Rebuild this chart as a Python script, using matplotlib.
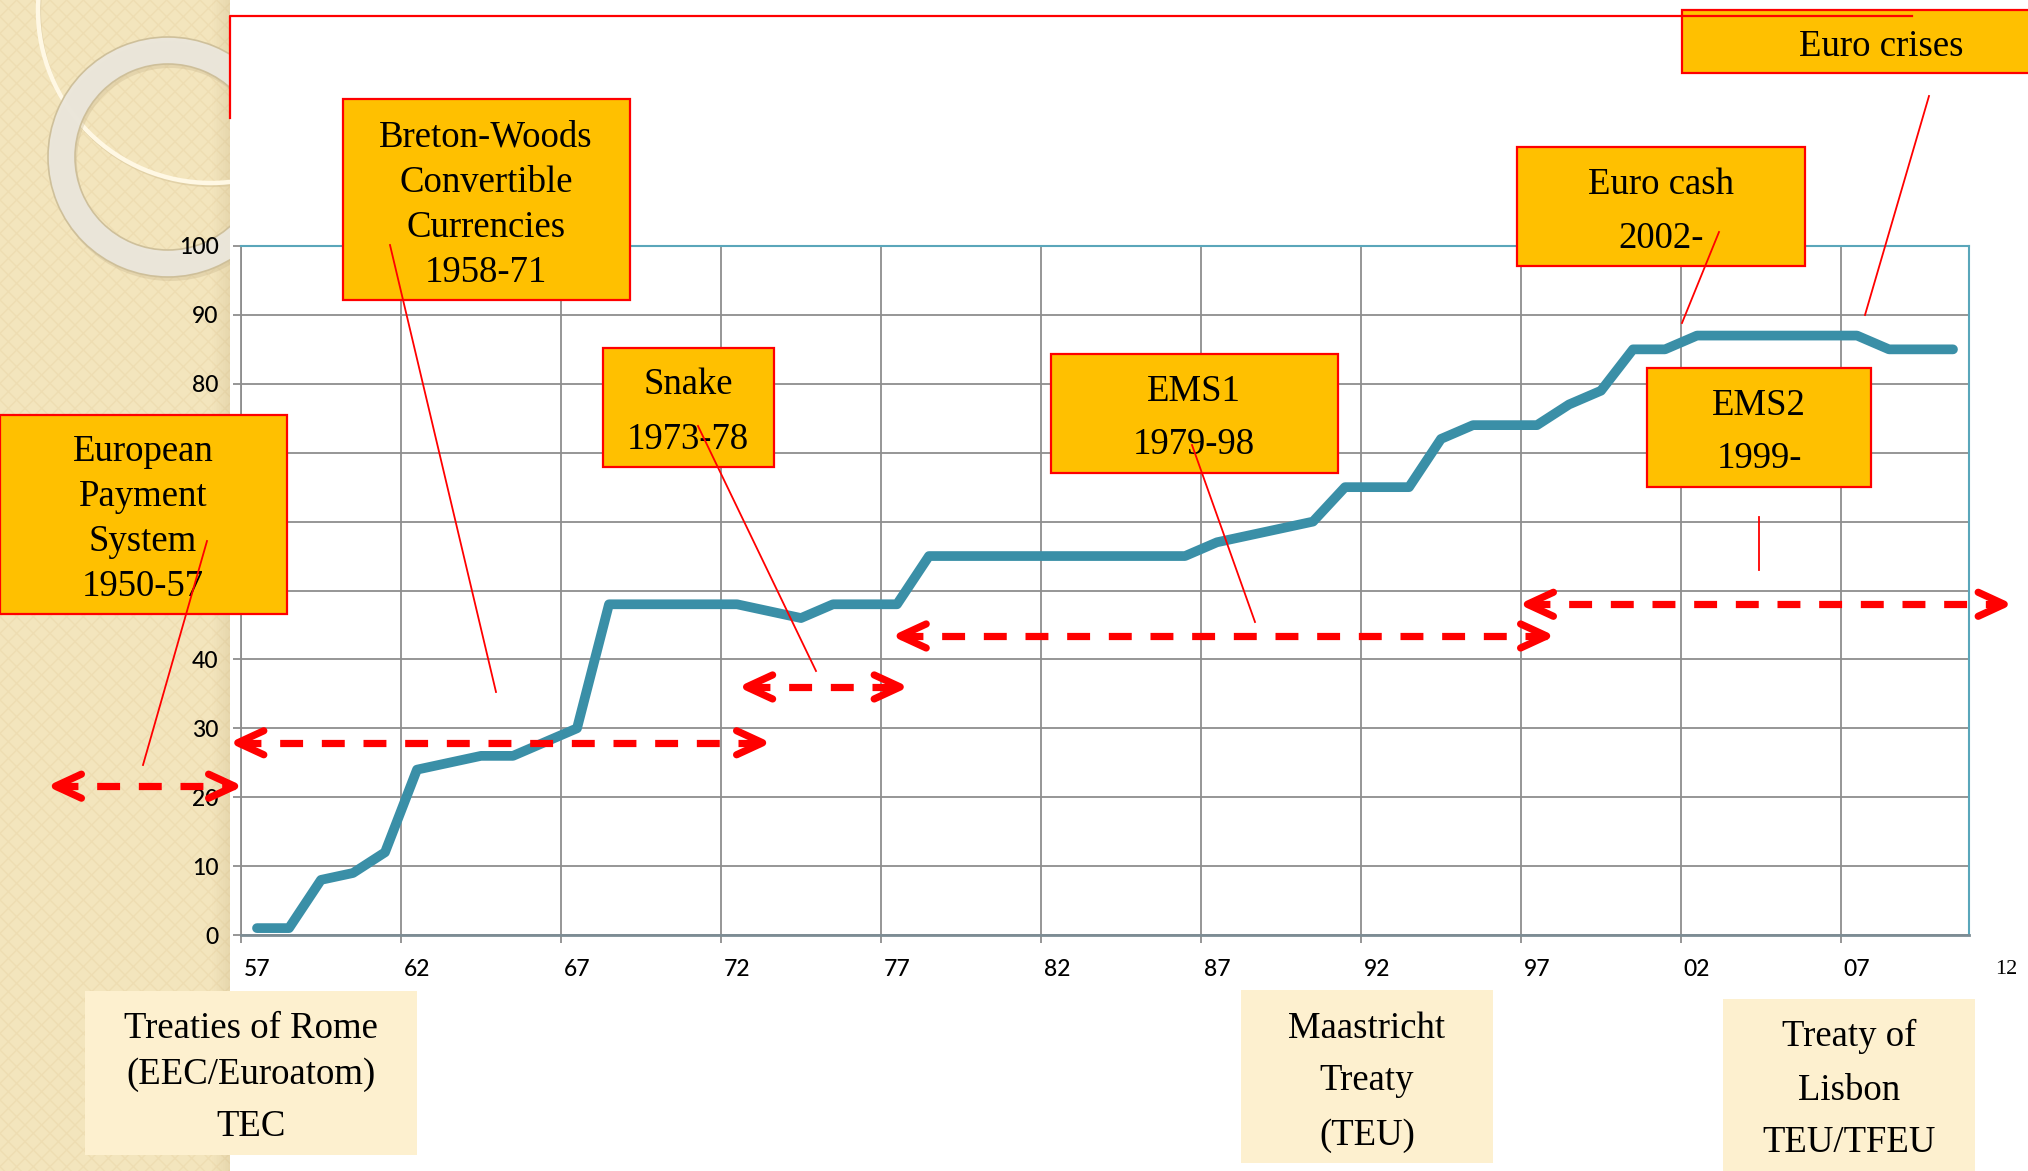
import numpy as np
import matplotlib
matplotlib.use("Agg")
import matplotlib.pyplot as plt
import matplotlib.patches as mpatches
import matplotlib.transforms as mtransforms
from matplotlib.lines import Line2D

# ---- data -------------------------------------------------------------
years = np.arange(1957, 2011)
integration = [1, 1, 8, 9, 12, 24, 25, 26, 26, 28, 30,
               48, 48, 48, 48, 48, 47, 46, 48, 48, 48,
               55, 55, 55, 55, 55, 55, 55, 55, 55,
               57, 58, 59, 60, 65, 65, 65, 72, 74, 74, 74,
               77, 79, 85, 85, 87, 87, 87, 87, 87, 87, 85, 85, 85]

tick_years = np.arange(1957, 2008, 5)
tick_labels = ["57", "62", "67", "72", "77", "82", "87", "92", "97", "02", "07"]
y_ticks = np.arange(0, 101, 10)

# currency regimes drawn as double-headed spans
span_start = [1950.7, 1956.4, 1972.3, 1977.1, 1996.7]
span_end = [1956.3, 1972.8, 1977.1, 1997.3, 2011.6]
span_level = [21.6, 27.9, 36.0, 43.4, 48.0]

callout_text = [
    ["European", "Payment", "System", "1950-57"],
    ["Breton-Woods", "Convertible", "Currencies", "1958-71"],
    ["Snake", "1973-78"],
    ["EMS1", "1979-98"],
    ["Euro cash", "2002-"],
    ["EMS2", "1999-"],
    ["Euro crises"],
]
treaty_text = [
    ["Treaties of Rome", "(EEC/Euroatom)", "TEC"],
    ["Maastricht", "Treaty", "(TEU)"],
    ["Treaty of", "Lisbon", "TEU/TFEU"],
]

# ---- figure -----------------------------------------------------------
plt.rcParams["lines.scale_dashes"] = False
plt.rcParams["hatch.linewidth"] = 1.0
W, H = 2028, 1171
fig = plt.figure(figsize=(W / 100, H / 100), dpi=100)
fig.patch.set_facecolor("white")
# pixel coordinates, origin top-left
px = mtransforms.Affine2D().scale(1 / W, -1 / H).translate(0, 1) + fig.transFigure

SERIF = ["Liberation Serif", "DejaVu Serif"]
SANS = ["Lato", "DejaVu Sans"]
FS = 26.5

# decorative side strip
strip = mpatches.Rectangle((0, 0), 230, H, transform=px, facecolor="#F3E5BD",
                           edgecolor="none", zorder=-6)
fig.add_artist(strip)
tex = mpatches.Rectangle((0, 0), 230, H, transform=px, facecolor="none",
                         edgecolor="#EEDDB2", hatch="xx", linewidth=0, zorder=-5.9)
fig.add_artist(tex)
for i in range(10):
    sh = mpatches.Rectangle((212 + i * 1.8, 0), 1.8, H, transform=px,
                            facecolor="#B9A170", alpha=0.015 + 0.02 * i,
                            edgecolor="none", zorder=-5.8)
    fig.add_artist(sh)

arc_shadow = mpatches.Circle((212, 12), 173, fill=False, edgecolor="#D8C69A",
                             lw=3, alpha=0.6, transform=px, zorder=-5.5)
arc = mpatches.Circle((211, 10), 173, fill=False, edgecolor="#FFF8E4",
                      lw=3.2, transform=px, zorder=-5.4)
ring_shadow = mpatches.Annulus((170, 161), 120, 27, facecolor="#C9B78E",
                               edgecolor="none", alpha=0.35,
                               transform=px, zorder=-5.35)
ring = mpatches.Annulus((168, 157), 120, 27, facecolor="#EBE7DC",
                        edgecolor="#CDBE98", lw=1.2, alpha=0.95,
                        transform=px, zorder=-5.3)
for a in (arc_shadow, arc, ring_shadow, ring):
    fig.add_artist(a)
    a.set_clip_path(strip)

# ---- axes -------------------------------------------------------------
ax = fig.add_axes([241 / W, 1 - 935 / H, (1969 - 241) / W, (935 - 246) / H])
ax.set_facecolor("white")
ax.set_axisbelow(True)

ax.plot(years, integration, color="#3A8FA7", lw=7, solid_joinstyle="round",
        solid_capstyle="round", zorder=3, clip_on=False)

grid_c = "#8E8E8E"
ax.set_yticks(y_ticks)
ax.set_yticklabels([str(v) for v in y_ticks])
ax.set_xticks(tick_years)
ax.set_xticklabels(tick_labels)
ax.set_xticks(np.arange(1956.5, 2010, 5), minor=True)
ax.grid(axis="y", which="major", color=grid_c, lw=1.3)
ax.grid(axis="x", which="minor", color=grid_c, lw=1.3)
ax.grid(axis="x", which="major", visible=False)
ax.tick_params(axis="x", which="major", length=0, pad=17, labelsize=16.5)
ax.tick_params(axis="x", which="minor", length=6, width=1.3, color=grid_c)
ax.tick_params(axis="y", length=6, width=1.3, color=grid_c, pad=10, labelsize=16.5)
for lab in ax.get_xticklabels() + ax.get_yticklabels():
    lab.set_family(SANS)
    lab.set_fontweight("medium")
# the labels 50-70 sit underneath the payment-system box
for v, lab in zip(y_ticks, ax.get_yticklabels()):
    if 45 < v < 76:
        lab.set_visible(False)
ax.spines["left"].set_color(grid_c)
ax.spines["left"].set_linewidth(1.3)
ax.spines["bottom"].set_color("#7C8C94")
ax.spines["bottom"].set_linewidth(2)
for s in ("top", "right"):
    ax.spines[s].set_color("#5AA6BA")
    ax.spines[s].set_linewidth(1.5)

# dashed period spans with open arrow heads
for x0, x1, yv in zip(span_start, span_end, span_level):
    ax.plot([x0, x1], [yv, yv], color="#FF0000", lw=5.2, dashes=(16.5, 13.5),
            dash_capstyle="butt", clip_on=False, zorder=6)
    for xt, sgn in ((x0, 1), (x1, -1)):
        tr = mtransforms.Affine2D() + mtransforms.ScaledTranslation(xt, yv, ax.transData)
        head = Line2D([sgn * 26, 0, sgn * 26], [12, 0, -12], transform=tr,
                      color="#FF0000", lw=5.2, solid_capstyle="round",
                      solid_joinstyle="round", clip_on=False, zorder=6)
        ax.add_line(head)

ax.set_xlim(1956.5, 2010.5)
ax.set_ylim(0, 100)

fig.text(2006, 970, "12", transform=px, ha="center", va="center",
         fontsize=16, family=SERIF)

# ---- callout boxes ----------------------------------------------------
callout_boxes = [(0, 415, 287, 614), (343, 99, 630, 300), (603, 348, 774, 467),
                 (1051, 354, 1338, 473), (1517, 147, 1805, 266),
                 (1647, 368, 1871, 487), (1682, 10, 2045, 73)]
callout_first = [447, 133, 380, 387, 180, 401, 42]
callout_spacing = [1.40, 1.40, 1.77, 1.71, 1.74, 1.71, 1.0]
callout_cx = [143, 486, 688, 1194, 1661, 1759, 1881]
leaders = [((207, 541), (143, 765)), ((390, 245), (496, 692)),
           ((698, 426), (816, 671)), ((1192, 445), (1255, 622)),
           ((1719, 232), (1682, 323)), ((1759, 517), (1759, 570)),
           ((1929, 96), (1865, 315))]

for lines, (x0, y0, x1, y1), y_first, ls, cx in zip(
        callout_text, callout_boxes, callout_first, callout_spacing, callout_cx):
    fig.add_artist(mpatches.Rectangle((x0, y0), x1 - x0, y1 - y0, transform=px,
                                      facecolor="#FFC000", edgecolor="#FF0000",
                                      lw=1.6, zorder=10))
    fig.text(cx, y_first - 12.6, "\n".join(lines), transform=px, ha="center",
             va="top", multialignment="center", linespacing=ls,
             fontsize=FS, family=SERIF, color="black", zorder=11)

for (xa, ya), (xb, yb) in leaders:
    fig.add_artist(Line2D([xa, xb], [ya, yb], transform=px, color="#FF0000",
                          lw=1.3, zorder=12))

# frame line along the top
fig.add_artist(Line2D([230, 230, 1912], [118, 15.5, 15.5], transform=px,
                      color="#FF0000", lw=1.6, zorder=12))

# ---- treaty boxes -----------------------------------------------------
treaty_boxes = [(85, 991, 417, 1155), (1241, 990, 1493, 1163), (1723, 999, 1975, 1180)]
treaty_rows = [[1026, 1071, 1124], [1025, 1078, 1132], [1034, 1087, 1140]]
treaty_cx = [251, 1367, 1849]
for lines, (x0, y0, x1, y1), rows, cx in zip(treaty_text, treaty_boxes,
                                             treaty_rows, treaty_cx):
    fig.add_artist(mpatches.Rectangle((x0, y0), x1 - x0, y1 - y0, transform=px,
                                      facecolor="#FDF0CF", edgecolor="none", zorder=10))
    for s, yy in zip(lines, rows):
        fig.text(cx, yy + 12.5, s, transform=px, ha="center", va="baseline",
                 fontsize=FS, family=SERIF, color="black", zorder=11)

fig.savefig("out.png", dpi=100)
